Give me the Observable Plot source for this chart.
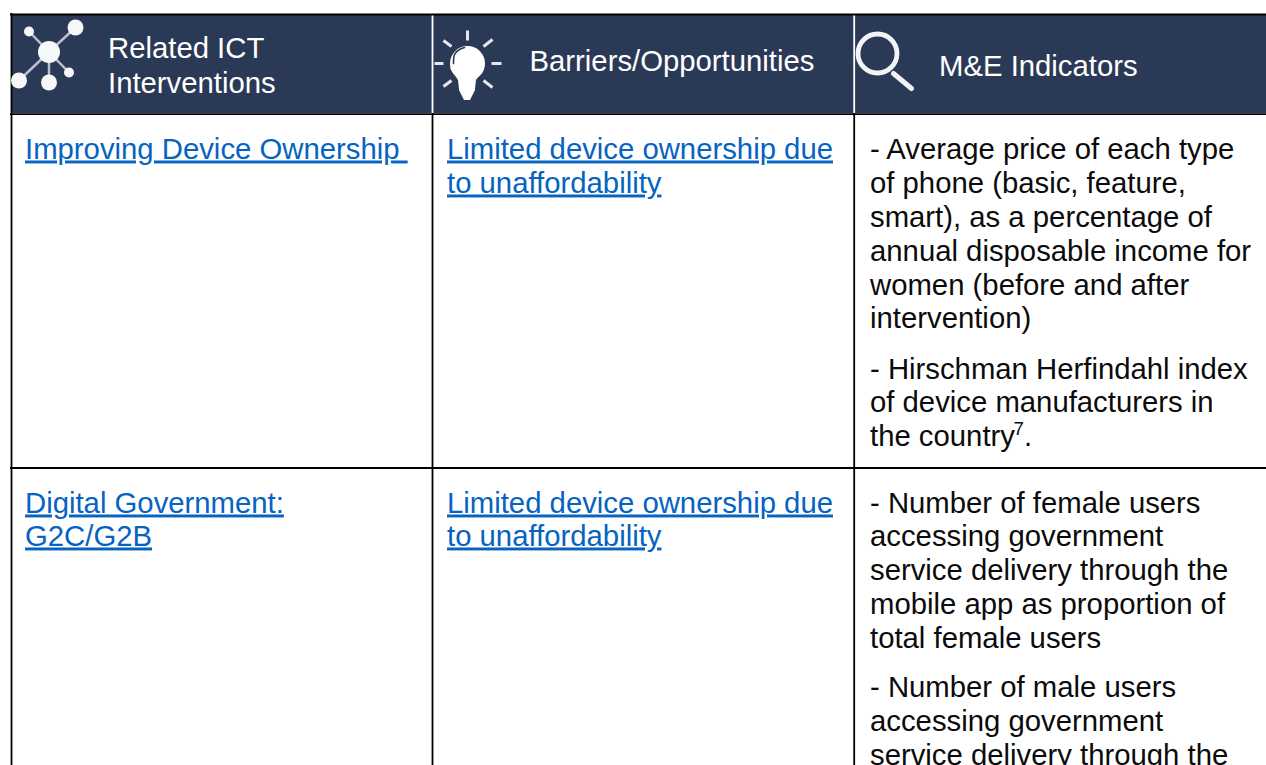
<!DOCTYPE html>
<html><head><meta charset="utf-8">
<script src="https://cdn.jsdelivr.net/npm/d3@7"></script>
<script src="https://cdn.jsdelivr.net/npm/@observablehq/plot@0.6"></script>
<style>
html,body{margin:0;padding:0;background:#fff;overflow:hidden}
svg{display:block}
.link text{text-decoration:underline;text-decoration-thickness:2px;white-space:pre}
.icon{filter:blur(.6px)}
</style></head><body>
<script>
const headerCells = [
  {x:107.5,y:57,text:"Related ICT"},
  {x:107.5,y:92,text:"Interventions"},
  {x:529,y:70,text:"Barriers/Opportunities"},
  {x:938.5,y:75,text:"M&E Indicators"}
];
const linkLines = [
  {x:24.5,y:158,text:"Improving Device Ownership "},
  {x:446.5,y:158,text:"Limited device ownership due"},
  {x:446.5,y:192,text:"to unaffordability"},
  {x:24.5,y:512,text:"Digital Government:"},
  {x:24.5,y:545,text:"G2C/G2B"},
  {x:446.5,y:512,text:"Limited device ownership due"},
  {x:446.5,y:545,text:"to unaffordability"}
];
const indicatorX = 869.5;
const indicatorY = [158,192,226,260,294,327,378,411,445,512,545,579,613,647,696,730,764];
const indicatorText = [
  "- Average price of each type","of phone (basic, feature,","smart), as a percentage of",
  "annual disposable income for","women (before and after","intervention)",
  "- Hirschman Herfindahl index","of device manufacturers in","the country",
  "- Number of female users","accessing government","service delivery through the",
  "mobile app as proportion of","total female users",
  "- Number of male users","accessing government","service delivery through the"
];
const footnote = [{x:1013,y:434,text:"7"},{x:1023.5,y:445,text:"."}];

const headerBand = [{x1:11,x2:1266,y1:14,y2:113}];
const blackH = [{y:14,x1:10,x2:1266},{y:113.7,x1:10,x2:1266},{y:467.5,x1:10,x2:1266}];
const blackV = [{x:11,y1:13,y2:765},{x:432,y1:113,y2:765},{x:853.7,y1:113,y2:765}];
const whiteV = [{x:432,y1:15,y2:113},{x:853.7,y1:15,y2:113}];

const netHub = {x:48.5,y:51.5};
const netNodes = [{x:75,y:27,r:8},{x:28.5,y:31,r:5},{x:18.5,y:80,r:8},{x:48.5,y:82,r:8},{x:68.5,y:72,r:5}];
const bulbRays = [
  {x1:467,y1:30,x2:467,y2:40},{x1:443,y1:40,x2:451,y2:46},{x1:483,y1:46,x2:492,y2:39},
  {x1:434,y1:63,x2:443,y2:63},{x1:491,y1:63,x2:501,y2:63},{x1:443,y1:86,x2:451,y2:80},{x1:483,y1:80,x2:492,y2:87}
];
const bulbNeck = [{y:68,x1:450,x2:484},{y:80,x1:458,x2:476},{y:89,x1:459,x2:475},{y:90,x1:459,x2:475},{y:96,x1:462,x2:472},{y:100,x1:464,x2:470}];
const bulbGlint = [{x:453,y:63},{x:454,y:54},{x:459,y:49},{x:464,y:47}];
const lensHandle = [{x1:893,y1:73,x2:911,y2:88}];

const navy = "#2a3a56", ink = "#0b0b0b", blue = "#0563c1", fontFamily = "Liberation Sans", size = 29.3;

const chart = Plot.plot({
  width:1266, height:765, margin:0,
  x:{type:"linear",domain:[0,1266],range:[0,1266],axis:null},
  y:{type:"linear",domain:[0,765],range:[0,765],axis:null},
  r:{type:"identity"},
  style:{background:"#fff",overflow:"hidden"},
  marks:[
    Plot.rect(headerBand,{x1:"x1",x2:"x2",y1:"y1",y2:"y2",fill:navy}),
    Plot.ruleX(whiteV,{x:"x",y1:"y1",y2:"y2",stroke:"#fff",strokeWidth:1.8}),
    Plot.ruleY(blackH,{y:"y",x1:"x1",x2:"x2",stroke:"#000",strokeWidth:1.8}),
    Plot.ruleX(blackV,{x:"x",y1:"y1",y2:"y2",stroke:"#000",strokeWidth:1.8}),

    Plot.link(netNodes,{x1:()=>netHub.x,y1:()=>netHub.y,x2:"x",y2:"y",stroke:"#b9c1cd",strokeWidth:2.5,className:"icon"}),
    Plot.dot(netNodes,{x:"x",y:"y",r:"r",fill:"#f6f7f8",className:"icon"}),
    Plot.dot([netHub],{x:"x",y:"y",r:()=>11,fill:"#f6f7f8",className:"icon"}),

    Plot.link(bulbRays,{x1:"x1",y1:"y1",x2:"x2",y2:"y2",stroke:"#e4e7ec",strokeWidth:3,className:"icon"}),
    Plot.dot([{x:467,y:63}],{x:"x",y:"y",r:()=>17.5,fill:"#fff",className:"icon"}),
    Plot.areaX(bulbNeck,{y:"y",x1:"x1",x2:"x2",fill:"#fff",className:"icon"}),
    Plot.line(bulbGlint,{x:"x",y:"y",curve:"natural",stroke:navy,strokeWidth:1.6,className:"icon"}),

    Plot.dot([{x:877,y:53}],{x:"x",y:"y",r:()=>19.5,fill:"none",stroke:"#f2f4f6",strokeWidth:4.8,className:"icon"}),
    Plot.link(lensHandle,{x1:"x1",y1:"y1",x2:"x2",y2:"y2",stroke:"#f2f4f6",strokeWidth:5,strokeLinecap:"round",className:"icon"}),

    Plot.text(headerCells,{x:"x",y:"y",text:"text",fill:"#fff",textAnchor:"start",lineAnchor:"bottom",fontFamily,fontSize:size}),
    Plot.text(linkLines,{x:"x",y:"y",text:"text",fill:blue,textAnchor:"start",lineAnchor:"bottom",fontFamily,fontSize:size,className:"link"}),
    Plot.text(indicatorText,{x:()=>indicatorX,y:(d,i)=>indicatorY[i],text:d=>d,fill:ink,textAnchor:"start",lineAnchor:"bottom",fontFamily,fontSize:size}),
    Plot.text(footnote.slice(0,1),{x:"x",y:"y",text:"text",fill:ink,textAnchor:"start",lineAnchor:"bottom",fontFamily,fontSize:size*0.64}),
    Plot.text(footnote.slice(1),{x:"x",y:"y",text:"text",fill:ink,textAnchor:"start",lineAnchor:"bottom",fontFamily,fontSize:size})
  ]
});
document.body.appendChild(chart);
</script>
</body></html>
